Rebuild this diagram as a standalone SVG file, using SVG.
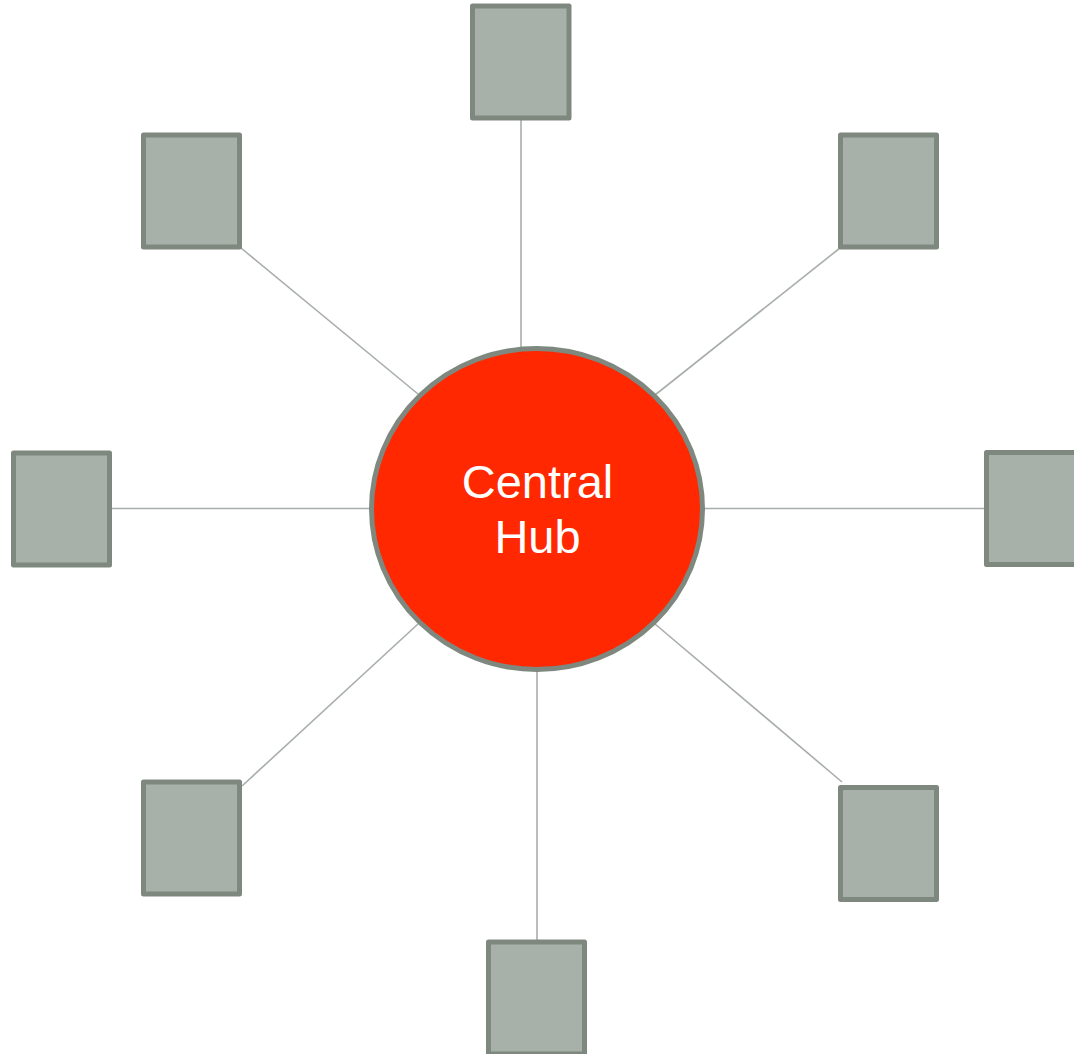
<svg xmlns="http://www.w3.org/2000/svg" width="1074" height="1054" viewBox="0 0 1074 1054">
<style>
.box{fill:#a7b0a9;stroke:#7e887f;stroke-width:5;stroke-linejoin:round}
.hub{fill:#ff2800;stroke:#7e887f;stroke-width:5}
.link{stroke:#a8aeaa;stroke-width:1.6;fill:none}
.lbl{fill:#ffffff;font-family:"Liberation Sans",Arial,sans-serif;font-size:47px;text-anchor:middle}
</style>
<rect width="1074" height="1054" fill="#ffffff"/>
<g id="connectors">
<line class="link" x1="521" y1="118" x2="521" y2="348"/>
<line class="link" x1="537" y1="670" x2="537" y2="942"/>
<line class="link" x1="109" y1="508.5" x2="370" y2="508.5"/>
<line class="link" x1="704" y1="508.5" x2="987" y2="508.5"/>
<line class="link" x1="241" y1="248" x2="418" y2="394"/>
<line class="link" x1="840" y1="248" x2="655" y2="395"/>
<line class="link" x1="242" y1="786" x2="418" y2="624"/>
<line class="link" x1="842" y1="782" x2="655" y2="624"/>
</g>
<g id="hub">
<ellipse class="hub" cx="537" cy="509" rx="165.5" ry="160.5"/>
<text class="lbl" x="537.5" y="498">Central</text>
<text class="lbl" x="537.5" y="553">Hub</text>
</g>
<g id="node-top"><rect class="box" x="472.5" y="6" width="96.5" height="112"/></g>
<g id="node-upper-left"><rect class="box" x="143.5" y="135" width="96" height="112"/></g>
<g id="node-upper-right"><rect class="box" x="840.5" y="135" width="96" height="112"/></g>
<g id="node-left"><rect class="box" x="13.5" y="453" width="96" height="112"/></g>
<g id="node-right"><rect class="box" x="986.5" y="452.5" width="96" height="112"/></g>
<g id="node-lower-left"><rect class="box" x="143.5" y="782" width="96" height="112"/></g>
<g id="node-lower-right"><rect class="box" x="840.5" y="787.5" width="96" height="112"/></g>
<g id="node-bottom"><rect class="box" x="488.5" y="942" width="96" height="112"/></g>
</svg>
